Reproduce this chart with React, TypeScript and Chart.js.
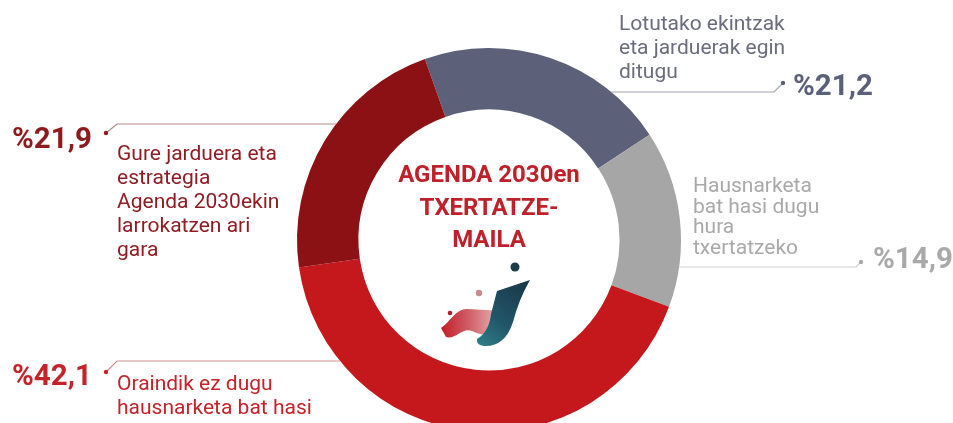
import React, { useEffect, useRef } from "react";
import { Chart, registerables } from "chart.js";

Chart.register(...registerables);

// ---------- data ----------
const categories = [
  "Lotutako ekintzak eta jarduerak egin ditugu",
  "Hausnarketa bat hasi dugu hura txertatzeko",
  "Oraindik ez dugu hausnarketa bat hasi",
  "Gure jarduera eta estrategia Agenda 2030ekin larrokatzen ari gara",
];
const values = [21.2, 14.9, 42.1, 21.9];
const valueLabels = ["%21,2", "%14,9", "%42,1", "%21,9"];
const labelLines = [
  ["Lotutako ekintzak", "eta jarduerak egin", "ditugu"],
  ["Hausnarketa", "bat hasi dugu", "hura", "txertatzeko"],
  ["Oraindik ez dugu", "hausnarketa bat hasi"],
  ["Gure jarduera eta", "estrategia", "Agenda 2030ekin", "larrokatzen ari", "gara"],
];
const centerTitle = ["AGENDA 2030en", "TXERTATZE-", "MAILA"];

// ---------- styles / layout ----------
const sliceColors = ["#5c6179", "#a6a6a6", "#c4181d", "#8b1114"];
const FONT = "Roboto, 'Noto Sans', sans-serif";

type Callout = {
  textX: number;
  textY: number;
  lineH: number;
  textSize: number;
  textColor: string;
  valueX: number;
  valueY: number;
  valueColor: string;
  lineY: number;
  side: "left" | "right";
  bendX: number;
  dotX: number;
  dotY: number;
  lineColor: string;
};

const callouts: Callout[] = [
  {
    textX: 619, textY: 30, lineH: 24, textSize: 21, textColor: "#6a6d7b",
    valueX: 793, valueY: 95, valueColor: "#5b6178",
    lineY: 92, side: "right", bendX: 774, dotX: 783, dotY: 83, lineColor: "#a4a6ad",
  },
  {
    textX: 693, textY: 192, lineH: 20.5, textSize: 21, textColor: "#a9a9a9",
    valueX: 873, valueY: 268, valueColor: "#a9a9a9",
    lineY: 267, side: "right", bendX: 856, dotX: 861, dotY: 262, lineColor: "#cfcfcf",
  },
  {
    textX: 117, textY: 390, lineH: 23.5, textSize: 21, textColor: "#c4232a",
    valueX: 12, valueY: 385, valueColor: "#c4232a",
    lineY: 361, side: "left", bendX: 117, dotX: 106, dotY: 372, lineColor: "#cf8d8f",
  },
  {
    textX: 117, textY: 160, lineH: 24, textSize: 21, textColor: "#8f1d22",
    valueX: 12, valueY: 148, valueColor: "#8e1a1e",
    lineY: 124, side: "left", bendX: 117, dotX: 106, dotY: 133, lineColor: "#b38a8c",
  },
];

const calloutPlugin = {
  id: "callouts",
  afterDraw(chart: any) {
    const ctx = chart.ctx as CanvasRenderingContext2D;
    const arc = chart.getDatasetMeta(0).data[0] as any;
    const cx = arc.x;
    const cy = arc.y;
    const R = arc.outerRadius;
    ctx.save();

    callouts.forEach((c, i) => {
      // leader line
      const dy = c.lineY - cy;
      const dx = Math.sqrt(Math.max(R * R - dy * dy, 0));
      const ringX = c.side === "left" ? cx - dx : cx + dx;
      ctx.strokeStyle = c.lineColor;
      ctx.lineWidth = 1.2;
      ctx.beginPath();
      ctx.moveTo(ringX, c.lineY);
      ctx.lineTo(c.bendX, c.lineY);
      ctx.lineTo(c.dotX, c.dotY);
      ctx.stroke();
      ctx.fillStyle = c.valueColor;
      ctx.beginPath();
      ctx.arc(c.dotX, c.dotY, 2.2, 0, Math.PI * 2);
      ctx.fill();

      // category text
      ctx.fillStyle = c.textColor;
      ctx.font = `400 ${c.textSize}px ${FONT}`;
      ctx.textAlign = "left";
      ctx.textBaseline = "alphabetic";
      labelLines[i].forEach((line, k) => {
        ctx.fillText(line, c.textX, c.textY + k * c.lineH);
      });

      // value
      ctx.fillStyle = c.valueColor;
      ctx.font = `700 29.5px ${FONT}`;
      ctx.fillText(valueLabels[i], c.valueX, c.valueY);
    });

    // center title
    ctx.fillStyle = "#c0202a";
    ctx.font = `700 24px ${FONT}`;
    ctx.textAlign = "center";
    const titleBase = [cy - 58, cy - 25, cy + 7];
    centerTitle.forEach((t, k) => ctx.fillText(t, cx, titleBase[k]));

    // logo (decoration)
    const ox = cx - 489;
    const oy = cy - 240;
    const X = (v: number) => v + ox;
    const Y = (v: number) => v + oy;

    // red ribbon
    const rg = ctx.createLinearGradient(X(442), 0, X(498), 0);
    rg.addColorStop(0, "#c41e2a");
    rg.addColorStop(0.5, "#d0626a");
    rg.addColorStop(1, "#e6b3b3");
    ctx.fillStyle = rg;
    ctx.beginPath();
    ctx.moveTo(X(441), Y(328));
    ctx.bezierCurveTo(X(450), Y(322), X(455), Y(310), X(466), Y(309));
    ctx.bezierCurveTo(X(478), Y(309), X(488), Y(311), X(498), Y(310));
    ctx.lineTo(X(494), Y(332));
    ctx.bezierCurveTo(X(486), Y(337), X(478), Y(334), X(472), Y(331));
    ctx.bezierCurveTo(X(462), Y(327), X(456), Y(340), X(446), Y(337));
    ctx.closePath();
    ctx.fill();

    // teal J
    const tg = ctx.createLinearGradient(X(525), Y(282), X(478), Y(345));
    tg.addColorStop(0, "#183947");
    tg.addColorStop(0.6, "#22566a");
    tg.addColorStop(1, "#2f7f86");
    ctx.fillStyle = tg;
    ctx.beginPath();
    ctx.moveTo(X(497), Y(291));
    ctx.lineTo(X(530), Y(280));
    ctx.quadraticCurveTo(X(519), Y(299), X(513), Y(322));
    ctx.quadraticCurveTo(X(505), Y(347), X(484), Y(346));
    ctx.quadraticCurveTo(X(476), Y(345), X(477), Y(339));
    ctx.quadraticCurveTo(X(489), Y(332), X(491), Y(314));
    ctx.closePath();
    ctx.fill();

    // dots
    const dot = (x: number, y: number, r: number, col: string) => {
      ctx.fillStyle = col;
      ctx.beginPath();
      ctx.arc(X(x), Y(y), r, 0, Math.PI * 2);
      ctx.fill();
    };
    dot(515, 267, 4.5, "#1c3d4a");
    dot(479, 293, 3.2, "#c98a8e");
    dot(450, 313, 2.3, "#b01e2a");

    ctx.restore();
  },
};

export default function App() {
  const ref = useRef<HTMLCanvasElement | null>(null);

  useEffect(() => {
    document.body.style.margin = "0";
    if (!ref.current) return;
    const chart = new Chart(ref.current, {
      type: "doughnut",
      data: {
        labels: categories,
        datasets: [
          {
            data: values,
            backgroundColor: sliceColors,
            borderWidth: 0,
            hoverOffset: 0,
          },
        ],
      },
      options: {
        responsive: false,
        animation: false,
        devicePixelRatio: 1,
        rotation: -19.5,
        cutout: "68%",
        layout: { padding: { left: 297, right: 272, top: 48, bottom: 8 } },
        plugins: {
          legend: { display: false },
          tooltip: { enabled: false },
        },
        events: [],
      },
      plugins: [calloutPlugin],
    });
    return () => chart.destroy();
  }, []);

  return (
    <div
      style={{
        position: "fixed",
        left: 0,
        top: 0,
        width: 953,
        height: 423,
        overflow: "hidden",
        background: "#ffffff",
      }}
    >
      <canvas ref={ref} width={953} height={440} style={{ width: 953, height: 440, display: "block" }} />
    </div>
  );
}
